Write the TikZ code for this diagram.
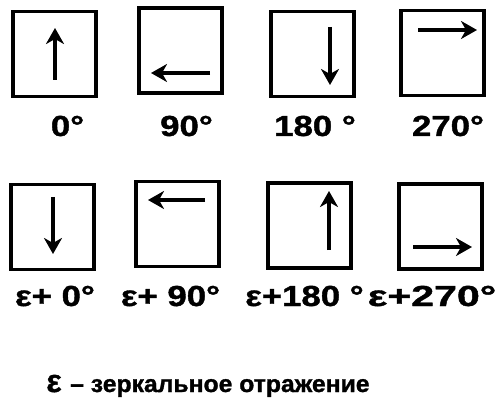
\documentclass[tikz,border=0pt]{standalone}
\usepackage{fontspec}
\setmainfont{Liberation Sans}
\newfontfamily\heavyfont[FakeBold=1.2]{Liberation Sans Bold}
\usetikzlibrary{arrows.meta}
\tikzset{
  panel/.style={draw, line width=3.2pt, minimum width=83pt, minimum height=85pt, inner sep=0pt},
  dirarrow/.style={line width=3.2pt, -{Stealth[length=16pt,width=18pt,inset=5pt]}},
  lbl/.style={font=\heavyfont\fontsize{29}{30}\selectfont, anchor=base, inner sep=0pt, xscale=1.2},
  note/.style={font=\heavyfont\fontsize{24}{26}\selectfont, anchor=base west, inner sep=0pt, xscale=1.03}
}
\begin{document}
\begin{tikzpicture}[x=1pt,y=-1pt]
\useasboundingbox (0,0) rectangle (497,403);
% row 1
\node[panel] (b1) at (54.5,54) {};
\node[panel] (b2) at (180.5,50.5) {};
\node[panel] (b3) at (312.5,54) {};
\node[panel] (b4) at (442.5,53) {};
% row 2
\node[panel] (b5) at (52.5,227) {};
\node[panel] (b6) at (177.5,224) {};
\node[panel] (b7) at (309.5,225.5) {};
\node[panel] (b8) at (440.5,226.5) {};
% arrows
\coordinate (a1s) at (55,80);  \coordinate (a1e) at (55,28);
\coordinate (a2s) at (210,73); \coordinate (a2e) at (151,73);
\coordinate (a3s) at (330,27); \coordinate (a3e) at (330,85);
\coordinate (a4s) at (418,30); \coordinate (a4e) at (477,30);
\coordinate (a5s) at (53,197); \coordinate (a5e) at (53,254);
\coordinate (a6s) at (205,200);\coordinate (a6e) at (148,200);
\coordinate (a7s) at (329,250);\coordinate (a7e) at (329,191);
\coordinate (a8s) at (413,247);\coordinate (a8e) at (472,247);
\foreach \i in {1,...,8} {\draw[dirarrow] (a\i s) -- (a\i e);}
% labels
\node[lbl] (l1) at (67.5,136) {0°};
\node[lbl] (l2) at (186.5,136) {90°};
\node[lbl] (l3) at (315,136) {180 °};
\node[lbl] (l4) at (448,136) {270°};
\node[lbl] (l5) at (55,306) {ε+ 0°};
\node[lbl] (l6) at (170.5,306) {ε+ 90°};
\node[lbl] (l7) at (304.5,306) {ε+180 °};
\node[lbl, xscale=1.18] (l8) at (432,306) {ε+270°};
% note
\node[font=\heavyfont\fontsize{32}{34}\selectfont, anchor=base, inner sep=0pt] (eps) at (54,392) {ε};
\node[note] (txt) at (70,392) {– зеркальное отражение};
\end{tikzpicture}
\end{document}
